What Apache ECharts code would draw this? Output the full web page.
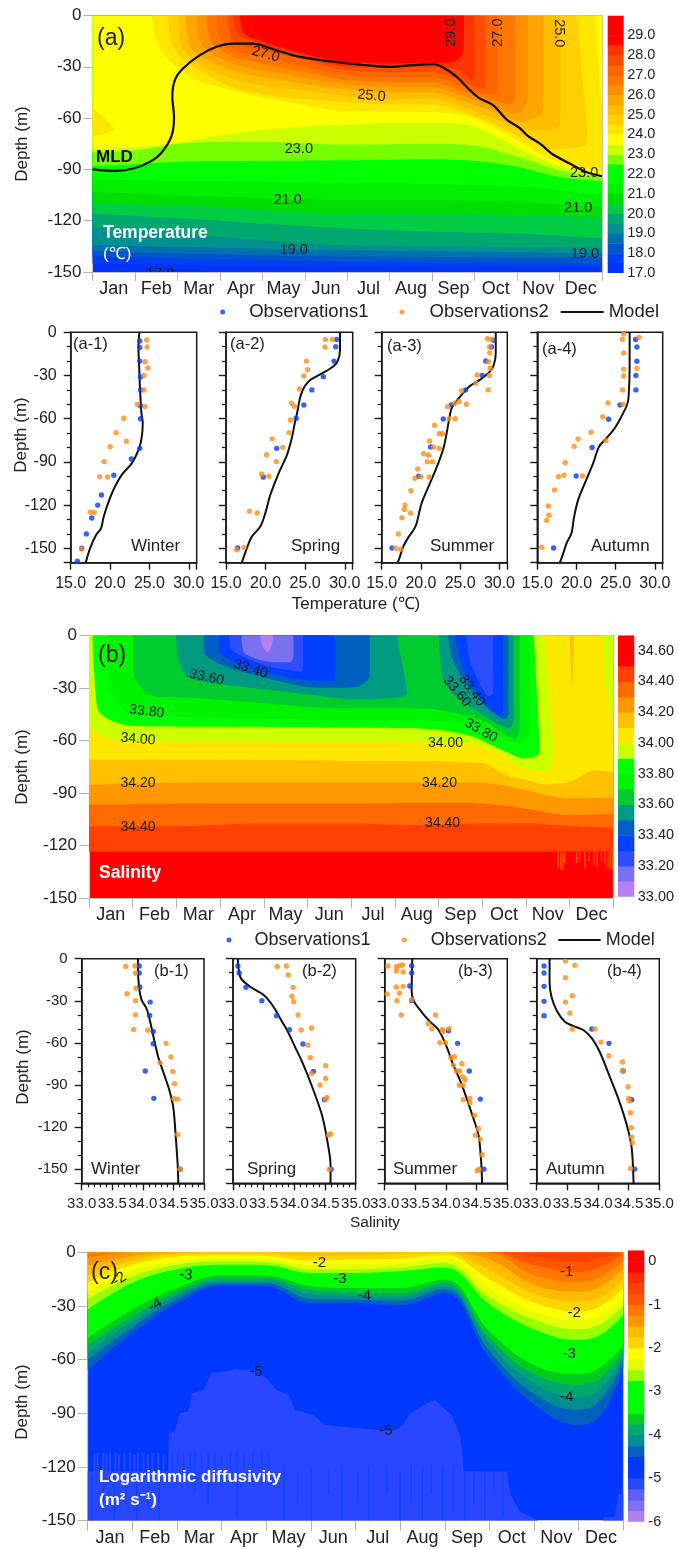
<!DOCTYPE html>
<html><head><meta charset="utf-8">
<style>html,body{margin:0;padding:0;background:#fff}#c{width:678px;height:1549px}</style>
<script src="https://cdn.jsdelivr.net/npm/echarts@6/dist/echarts.min.js"></script>
</head><body><div id="c"></div>
<script>
const months=['Jan','Feb','Mar','Apr','May','Jun','Jul','Aug','Sep','Oct','Nov','Dec'];

// ---------- (a) temperature: isotherm depth [month position, depth m]
const t175=[[0,145],[6,147],[12,147]];
const t180=[[0,141],[6,144],[12,145]];
const t185=[[0,138],[6,141],[12,142]];
const t190=[[0,134.4],[6,137.3],[12,139]];
const t195=[[0,123.7],[3,129.5],[6,134.4],[8,135],[12,136]];
const t200=[[0,116],[3,120],[6,124.6],[8,126.5],[10,127.5],[12,130.5]];
const t205=[[0,110],[3,112],[6,116],[8,116],[12,118]];
const t210=[[0,103],[3,106],[6,108],[8,108],[10,109],[12,112]];
const t215=[[0,96],[3,97],[6,98],[10,100],[12,105]];
const t220=[[0,92],[3,90],[6,90],[9,90],[10,93],[11,98],[12,100]];
const t225=[[0,88],[1,87],[2,85.5],[4,85],[6,84.6],[8,84],[9,85],[10,88.5],[11,94.4],[12,97]];
const t230=[[0,80],[1,79],[2,75],[3,74],[4,74],[6,75.5],[8,75],[9,76],[10,82.5],[11,90.5],[12,95]];
const t235=[[0,78],[1,77],[2,74.5],[3,70],[4,67],[5,65],[6,64],[7,62.5],[8,62.5],[9,65],[10,77],[11,88],[12,93.5]];
const t240=[[1.39,0],[1.5,14],[1.75,25],[2.5,38],[3.5,45],[4.5,50],[6,56],[8,56.5],[9,60],[10,73],[11,86],[12,91]];
const t245=[[1.78,0],[1.85,15],[2.2,27],[3.3,42],[4,46],[5,49],[5.82,50.5],[7,52],[8,52],[8.7,56],[9.4,63],[10.2,72],[10.8,78],[11.6,76],[11.65,70],[11.65,0]];
const t250=[[2.02,0],[2.1,18],[2.5,28],[3.3,37],[4,41],[5,44],[5.82,46.6],[7,49],[8,48.5],[8.7,53],[9.4,60],[10.2,67],[10.8,67],[11.02,62],[11.02,0]];
const t255=[[2.2,0],[2.35,20],[3.3,32],[4,36],[5,40],[5.82,42.7],[7,45],[8,45],[8.7,50],[9.4,56],[10.1,62],[10.55,58],[10.62,52],[10.62,0]];
const t260=[[2.45,0],[2.6,18],[3.3,28],[4,32],[5,36.5],[5.82,39.8],[7,42],[8,42],[8.7,47],[9.4,53],[10,57],[10.2,52],[10.26,46],[10.26,0]];
const t265=[[2.68,0],[2.8,15],[3.3,24],[4,28],[5,33],[5.82,37],[7,39],[8,39],[8.7,44],[9.4,49],[9.8,52],[9.95,48],[9.95,0]];
const t270=[[2.92,0],[3,13],[3.3,20],[4.1,24],[5,30],[5.82,34],[7,36],[8,36],[8.7,41],[9.3,46],[9.52,46],[9.55,40],[9.55,0]];
const t275=[[3.19,0],[3.3,15],[4,20],[5,26],[5.82,31.4],[7,33],[8,33],[8.7,38],[9.2,43],[9.26,40],[9.26,0]];
const t280=[[3.31,0],[3.4,10],[3.7,14],[4.3,19.5],[5,24],[5.82,29.5],[7,30.5],[8,30],[8.6,31.5],[8.95,38],[9,36],[9,0]];
const t285=[[3.47,0],[3.55,10],[3.8,13.5],[4.33,18],[5,22.5],[5.82,27],[7,28],[8,28],[8.4,27.5],[8.65,25],[8.75,15],[8.75,0]];
const t290=[[3.75,0],[3.9,11],[4.5,18.5],[5.8,26],[7,26.5],[8,27],[8.45,20],[8.45,0]];
const tempIsotherms=[[17.5,t175],[18,t180],[18.5,t185],[19,t190],[19.5,t195],[20,t200],[20.5,t205],[21,t210],[21.5,t215],[22,t220],[22.5,t225],[23,t230],[23.5,t235],[24,t240],[24.5,t245],[25,t250],[25.5,t255],[26,t260],[26.5,t265],[27,t270],[27.5,t275],[28,t280],[28.5,t285],[29,t290]];
const tempColors=['#0033ff','#0040f0','#0055cc','#0070b0','#009090','#00a870','#00cc44','#00dd00','#00f000','#00ff00','#00ff00','#77ff00','#ccff00','#ffff00','#ffe600','#ffd000','#ffbf00','#ffa500','#ff9000','#ff7700','#ff6600','#ff4d00','#ff3300','#ff0500','#ff0000','#ff0000'];
const tempPatches=[[24,[[0,53.4],[0.56,67],[0,71]]],[24,[[11.4,0],[11.65,0],[11.65,65]]],[23.5,[[11.85,0],[12,0],[12,55],[11.95,38]]]];
const mldDepth=[[0,90],[0.56,90.9],[0.96,89.5],[1.35,85.6],[1.62,80.4],[1.86,70.6],[1.92,59.3],[1.88,47.6],[1.94,37.8],[2.13,31],[2.53,23.2],[2.92,18.3],[3.31,16.4],[3.78,16.4],[4.33,20.3],[4.88,24.2],[5.82,27.5],[6.61,29.5],[7,30],[7.55,29],[8.03,28.5],[8.26,30.4],[8.58,35.9],[8.85,42.7],[9.09,48],[9.44,52.5],[9.75,60.7],[10.07,66],[10.26,70.6],[10.54,74.9],[10.81,80.7],[11.24,86.6],[11.63,91.5],[12,94]];
const tempLabels=[[4.08,22.7,'27.0',-15],[6.57,47,'25.0',-5],[4.86,78,'23.0',0],[4.6,107.7,'21.0',0],[4.74,137,'19.0',0],[1.6,151,'17.0',0],[8.44,10,'29.0',90],[9.56,10,'27.0',90],[10.99,10.4,'25.0',-90],[11.58,92.3,'23.0',0],[11.44,112.7,'21.0',0],[11.6,139.5,'19.0',0]];

// ---------- profiles (a): [temperature, depth]
const a1Obs1=[[23.77,6],[23.77,10.6],[23.77,20],[23.86,31],[23.86,40],[23.86,51],[23.86,60],[23.77,80.6],[22.7,88],[20.47,99.3],[18.9,113],[18.43,120],[17.67,129],[16.99,140],[16.4,150],[15.85,159]];
const a1Obs2=[[24.66,5.3],[24.7,10.2],[24.45,20.4],[24.8,24.8],[24.3,30],[24.3,40],[23.47,50],[24.45,51.6],[21.74,59.7],[20.76,69.7],[22.08,75.7],[20,79.4],[19.24,89.8],[18.69,100.2],[19.66,100.5],[17.5,125],[18,125.2],[16.4,150.5]];
const a1Model=[[23.73,0],[23.6,9.9],[23.69,23.8],[23.81,40],[23.98,56],[24.15,63],[24.03,72.5],[23.69,80.6],[22.75,91],[21.48,99],[20.42,109.5],[19.66,120],[19.15,129],[18.86,136],[18.22,140.7],[17.46,150],[16.9,160]];
const a2Obs1=[[28.98,5],[28.86,10],[28.64,20],[27.29,30.8],[25.85,40],[24.83,50.5],[23.86,59.7],[21.4,80.6],[19.7,100.5],[16.48,149.8]];
const a2Obs2=[[27.54,4.9],[28.43,5],[27.5,10.2],[25.17,20],[25.3,26],[24.83,30.3],[24.28,39.4],[23.26,49.3],[23.64,51.4],[23.14,60.9],[22.97,69.7],[20.85,74],[22.16,79.9],[20.13,85],[21.36,89.8],[19.49,98.4],[20.42,100],[17.97,124.3],[18.94,125.5],[17.29,149.5],[16.36,151]];
const a2Model=[[29.4,0],[29.4,12.3],[29.07,20.4],[28.22,25],[26.95,29],[25.68,33],[24.92,37.7],[24.4,44.6],[23.98,56],[23.69,63],[23.35,72.5],[22.71,85],[21.65,97.9],[20.59,113],[19.96,125.7],[19.32,135],[18.26,141.9],[17.63,150],[16.99,160]];
const a3Obs1=[[29.24,5.6],[28.98,10.2],[28.26,19.9],[27.8,29.9],[25.68,40],[23.86,50.5],[22.84,60.2],[21.23,79.6],[19.7,100],[16.31,149.8]];
const a3Obs2=[[28.47,4.4],[28.98,4.9],[28.73,10.2],[28.77,14.4],[28.6,20.4],[28.81,25],[27.16,29.6],[28.73,30],[26.99,35.4],[28.56,40],[25.17,40.7],[24.87,48],[24.32,49.3],[25.8,50],[23.39,51.6],[23.56,60],[24.36,60],[21.74,64.6],[22.33,70.4],[22.75,70.4],[21.1,75.5],[21.61,79.6],[22.33,80.6],[20.34,84.3],[20.97,85.2],[20.8,89.8],[21.48,90],[19.58,94.9],[20,100.2],[19.24,101.4],[21.06,100.5],[18.73,110],[17.97,120],[17.88,123],[17.58,128.7],[18.69,125.7],[17.12,140],[16.78,150],[17.42,150.7]];
const a3Model=[[29.53,0],[29.53,14.6],[29.28,22.7],[28.77,27.3],[27.5,33],[26.23,37.3],[25.17,43.5],[24.32,49.3],[23.9,52.8],[23.69,57.4],[23.35,67.8],[22.92,79.4],[22.2,91],[21.14,104.9],[20.08,118.8],[19.45,132.6],[19.11,136.8],[18.39,142.4],[17.75,148.8],[17.25,157],[17.03,160]];
const a4Obs1=[[27.54,5],[27.71,10.2],[27.71,20.1],[27.58,30],[27.58,40],[25.55,50.5],[24.11,60.4],[21.99,80],[19.96,99.8],[17.08,149.8]];
const a4Obs2=[[26.02,1.2],[27.97,3.5],[25.85,4.9],[26.02,14.4],[27.71,25],[26.02,25.7],[26.02,30.3],[25.89,40],[24.03,49],[25.93,50],[23.35,58.6],[21.86,69.4],[20.21,74],[19.7,79.2],[23.77,75.2],[18.56,90.5],[18.39,99.3],[17.71,100.2],[20.76,99.8],[17.2,109.5],[16.4,120.6],[16.48,127],[16.19,130.6],[15.59,149.3]];
const a4Model=[[26.78,0],[26.78,23.8],[26.65,44.7],[26.44,50.5],[25.72,58.6],[24.87,66.6],[23.81,73.6],[22.88,79.4],[22.12,91],[21.06,104.9],[20.21,116.4],[19.7,128],[19.36,139.6],[18.73,146.5],[18.31,153.5],[17.88,160]];

// ---------- (b) salinity: isohaline depth
const s345=[[0,123.6],[12,123.6]];
const s344=[[0,109],[2,109],[4,107.5],[6,107.5],[7.3,108.3],[9,107.5],[10,107.5],[11,109],[12,110]];
const s343=[[0,96.5],[4,96],[6,96],[7.5,95.7],[9,96],[10,99],[11,102.6],[12,102]];
const s342=[[0,85.5],[1,84.5],[3,84],[6,84],[9,84],[10,88.4],[10.6,92],[11,93],[12,92.7]];
const s341=[[0,71],[2,71],[6,71.6],[9,73],[9.55,79.8],[10,82.6],[10.5,85],[11,83.6],[11.6,77],[12,78]];
const s340=[[0,52],[0.25,57],[0.7,60],[1.2,61],[6,60.8],[8,61.3],[8.8,62],[9.4,67.4],[9.86,75],[10.3,78],[10.51,77],[10.6,71],[10.63,65],[10.63,0]];
const s339=[[0.08,0],[0.115,20],[0.21,42.6],[0.48,48.4],[1,51.8],[2.5,52.2],[5.7,52.6],[7.3,53.1],[8,54],[8.8,58],[9.55,66.5],[9.94,70.3],[10.3,67.4],[10.3,0]];
const s338=[[0.44,0],[0.48,29],[0.6,37],[0.94,44.9],[5.75,48.4],[8,49],[9,53],[9.6,60],[9.9,62],[10.1,55],[10.1,0]];
const s337=[[1.01,0],[1.01,20],[1.36,34],[2.54,36],[4.07,38.9],[5.75,41.7],[7.3,41.7],[8,42.6],[9,48.4],[9.55,57],[9.76,58.9],[9.86,52],[9.86,0]];
const s336a=[[1.99,0],[2.05,14],[2.24,23.6],[2.85,27.4],[4.07,31],[5.75,36],[6,36.4],[7.27,33.5],[7.3,0]];
const s336b=[[8,0],[8.05,15],[8.1,25],[8.4,35],[9.02,45.5],[9.48,52],[9.63,53],[9.72,48],[9.72,0]];
const s335a=[[2.62,0],[2.64,10],[3,16.5],[3.4,20],[4.07,24.5],[5,29.5],[5.75,30],[6.2,29],[6.43,22.7],[6.43,0]];
const s335b=[[8.22,0],[8.3,12],[8.57,25.5],[9.02,39],[9.33,45.5],[9.52,48],[9.6,44.5],[9.6,0]];
const s334a=[[2.96,0],[2.98,9],[3.4,16.5],[4.07,21.5],[4.9,25.5],[5.6,26],[5.63,22],[5.63,0]];
const s334b=[[8.38,0],[8.45,10],[8.64,23.6],[9.1,40.7],[9.37,45.5],[9.48,44.5],[9.48,0]];
const s333a=[[3.2,0],[3.25,8],[3.6,13],[4.07,17.5],[4.6,20],[4.85,21],[4.9,15],[4.9,0]];
const s333b=[[8.63,0],[8.72,15],[8.95,28],[9.15,35],[9.25,33],[9.25,0]];
const s332=[[3.49,0],[3.55,10],[4.07,15],[4.6,15.5],[4.68,12],[4.68,0]];
const s331=[[3.91,0],[3.98,7],[4.1,9.5],[4.18,6],[4.22,0]];
const salIsohalines=[[34.5,s345],[34.4,s344],[34.3,s343],[34.2,s342],[34.1,s341],[34.0,s340],[33.9,s339],[33.8,s338],[33.7,s337],[33.6,s336a],[33.6,s336b],[33.5,s335a],[33.5,s335b],[33.4,s334a],[33.4,s334b],[33.3,s333a],[33.3,s333b],[33.2,s332],[33.1,s331]];
const salColors=['#b580f0','#7a70f0','#2d4dff','#0040ff','#0060c0','#009a80','#00cc30','#00f400','#00ff00','#ccff00','#ffe800','#ffc000','#ff9800','#ff6a00','#ff4000','#ff0000','#ff0000'];
const salPatches=[[34.0,[[10.41,0],[10.63,0],[10.63,62],[10.55,40]]],[33.9,[[10.18,0],[10.3,0],[10.3,55]]],[33.6,[[7.04,0],[7.3,0],[7.3,33.5],[7.2,20]]],[33.9,[[11.75,0],[12,0],[12,52],[11.8,25]]],[34.1,[[11,0],[11.1,0],[11.07,29],[11.05,29]]]];
const salStreaks=[[10.74,124,133],[10.8,124,134],[10.85,124,134],[10.89,124,130],[11.16,124,130],[11.23,124,128],[11.35,124,133],[11.45,124,129],[11.56,124,131],[11.63,124,133],[11.73,124,129],[11.81,124,131],[11.88,124,134],[11.93,124,133],[11.98,124,134]];
const salLabels=[[3.7,19.2,'33.40',-18],[2.69,24,'33.60',-12],[1.32,43.5,'33.80',-7],[1.12,59.3,'34.00',-5],[1.12,84.5,'34.20',0],[1.12,109.3,'34.40',0],[8.76,31.5,'33.40',-55],[8.42,32.1,'33.60',-50],[8.97,54.4,'33.80',-30],[8.16,61.7,'34.00',0],[8.02,84.2,'34.20',0],[8.09,107.4,'34.40',0]];

// ---------- profiles (b): [salinity, depth]
const b1Obs1=[[33.94,5.2],[33.94,10.2],[33.95,20.2],[34.12,30.9],[34.11,40.4],[34.17,51.8],[34.17,60.6],[34.04,80],[34.18,99.5],[34.61,150]];
const b1Obs2=[[33.72,5.5],[33.87,5.2],[33.88,10.2],[33.89,21],[33.74,25],[33.88,30],[33.88,40],[33.85,50.4],[34.08,51],[34.38,60.3],[34.46,70],[34.28,74],[34.49,80.3],[34.52,89],[34.51,99.8],[34.57,100],[34.57,125.2],[34.61,150]];
const b1Model=[[33.92,0],[33.92,6.9],[33.94,21],[33.98,29.5],[34.06,35.4],[34.12,44.9],[34.18,56.8],[34.25,69.8],[34.36,84],[34.44,94.7],[34.5,106.6],[34.54,128],[34.57,147],[34.58,160]];
const b2Obs1=[[33.08,5.2],[33.1,10.2],[33.21,20.4],[33.47,29.9],[33.71,40.6],[33.92,50.6],[34.14,60.8],[34.31,80.3],[34.49,100.5],[34.6,150]];
const b2Obs2=[[33.72,5.5],[33.87,5.2],[33.9,11.6],[33.98,20.4],[33.96,26.8],[33.99,30.6],[34.06,40.1],[34.11,50.8],[34.28,49.4],[34.22,61.5],[34.26,70.5],[34.51,76.2],[34.28,81.7],[34.51,85.3],[34.42,90],[34.53,98.8],[34.51,100.2],[34.56,125.6],[34.59,124.9],[34.57,150]];
const b2Model=[[33.08,0],[33.09,6.9],[33.13,14],[33.28,20],[33.5,25.9],[33.66,34.2],[33.8,44.9],[33.88,50.8],[34.01,62.7],[34.15,75.8],[34.29,91.2],[34.45,111.4],[34.54,130.4],[34.59,147],[34.59,160]];
const b3Obs1=[[33.44,5],[33.44,10.2],[33.41,19.5],[33.44,29.9],[34.04,51.3],[34.19,60.3],[34.38,80],[34.56,100],[34.62,149.9]];
const b3Obs2=[[33.05,5.2],[33.19,5.7],[33.24,5],[33.29,4.5],[33.19,8.8],[33.3,9.5],[33.19,20.2],[33.3,19.7],[33.04,25.2],[33.24,24.5],[33.2,29.9],[33.44,29.2],[33.27,40.1],[33.83,40.1],[33.71,46.3],[33.77,49.9],[33.94,50.4],[33.95,52],[34.05,49.9],[33.9,59.9],[33.99,59.9],[34.08,70.3],[34.14,69.8],[34.12,75.8],[34.26,74.8],[34.17,80],[34.22,80],[34.27,84],[34.31,86.2],[34.22,90.3],[34.28,90.3],[34.28,100.5],[34.39,99.5],[34.39,102.6],[34.47,111.4],[34.53,121.1],[34.48,125.7],[34.56,128.5],[34.59,139.7],[34.51,151],[34.54,150]];
const b3Model=[[33.45,0],[33.44,23.5],[33.48,30.6],[33.6,37.8],[33.74,44.9],[33.88,50.8],[34.01,62.7],[34.12,75.8],[34.26,90],[34.42,110.2],[34.53,125.7],[34.57,142.3],[34.59,160]];
const b4Obs1=[[33.12,5.2],[33.12,10.2],[33.12,19.7],[33.12,30.4],[33.12,40.6],[33.9,50.1],[34.18,60.3],[34.41,80],[34.55,100.5],[34.6,149.9]];
const b4Obs2=[[33.47,1.7],[33.62,4.75],[33.47,13.5],[33.58,26.4],[33.47,30.9],[33.54,38.7],[33.58,50.1],[33.95,50.1],[34.05,59.4],[34.18,69.1],[34.4,73.6],[34.4,79.8],[34.49,91.2],[34.5,99.5],[34.51,101.4],[34.53,109.7],[34.54,120.4],[34.55,127.1],[34.56,131.1],[34.53,149.4]];
const b4Model=[[33.21,0],[33.21,16.4],[33.24,27],[33.33,37.3],[33.46,44.9],[33.6,48],[33.76,50.8],[33.9,56.8],[34.04,67.5],[34.17,81.7],[34.34,100.7],[34.47,118.5],[34.55,135],[34.58,160]];

// ---------- (c) log diffusivity: contour depth at each column
const kCols=[0,1,2,3,4,5,6,7,8,9,10,11,11.5,12];
const k450=[66,45,28.5,18.5,19,28.5,28.5,29.5,23,59,85,96.5,91,65];
const k425=[60,42,26,17.5,17.5,26,26.5,27,20.5,55,79,88,82,61];
const k400=[56,39,24,16,16,23.5,24.5,25,19,51,73,81,76,58];
const k375=[52,36,22,14.5,14.5,21,22.5,23,17,48,68,74,70,55];
const k350=[48,32,20,13,13,19,20,20,15,44,63,68,64,52];
const k275=[32,17,9.5,7,7.3,11.5,11.5,10.5,8.5,29,43,49,46,35];
const k250=[26,13.5,7,5,5.3,9.5,9.5,8.5,6,25,37.5,43,40,30];
const k225=[22,10,5,3,3.5,7,6.5,6,3,20,33,38,35,25];
const k200=[17,7,2.5,1.5,2,4.5,4,3.5,1.5,15,28,33,30,20];
const k175=[13,4.5,1,0.5,0.7,2,1.5,1,0.3,10,23,27.5,25,15];
const k150=[7.5,2,0.3,0,0,0,0,0,0,4,18,22,19,9];
const k125=[3,0,0,0,0,0,0,0,0,0.5,12.5,16.5,13.5,5];
const k100=[0,0,0,0,0,0,0,0,0,0,7,11,8,1];
const k075=[0,0,0,0,0,0,0,0,0,0,2.4,5,3,0];
const diffContours=[[-4.5,k450],[-4.25,k425],[-4,k400],[-3.75,k375],[-3.5,k350],[-2.75,k275],[-2.5,k250],[-2.25,k225],[-2,k200],[-1.75,k175],[-1.5,k150],[-1.25,k125],[-1,k100],[-0.75,k075]];
const diffColors=['#b080f0','#8070f0','#5f5ff8','#2848ff','#0038ff','#0038ff','#0060c0','#008f90','#00a870','#00cc20','#00ff00','#00ff00','#00ff00','#99ff00','#e6ff00','#ffff00','#ffd500','#ffbb00','#ff9500','#ff7700','#ff5500','#ff4000','#ff2a00','#ff0000','#ff0000'];
const diffPatchTop=[[0,122.5],[1.8,122.5],[1.82,101],[1.95,100],[2.07,90],[2.25,89],[2.33,78.8],[2.6,77],[2.78,67.2],[3.1,66.5],[3.34,65.2],[3.65,66],[4.01,70.4],[4.23,77],[4.5,79.7],[4.65,88],[5.06,91],[5.32,96.5],[5.65,97.4],[6.1,98.3],[6.85,100],[7.07,96.5],[7.22,90],[7.6,84.4],[7.78,82.5],[8.15,90.9],[8.34,102],[8.4,113.2],[8.42,122.5],[9.39,122.5],[9.46,134.6],[9.68,145],[9.98,148.6],[10.1,150]];
const diffPatchCorner=[[11.55,148],[11.8,148],[11.9,135],[12,135]];
const diffTeeth=[[0.15,112,123],[0.22,112,123],[0.35,112,123],[0.42,113,123],[0.5,112,123],[0.62,112,123],[0.7,113,123],[0.82,112,123],[0.95,112,123],[1.05,113,123],[1.13,112,123],[1.25,112,123],[1.35,113,123],[1.45,112,123],[1.58,112,123],[1.7,113,123]];
const diffDarkStreaks=[[0.1,125,150],[0.35,123,145],[0.6,123,150],[0.85,125,140],[1.1,123,150],[1.35,124,142],[1.6,123,150],[1.9,112,123],[2.02,112,120],[2.15,113,126],[2.3,112,122],[2.4,112,135],[2.55,113,124],[2.7,112,140],[2.85,112,122],[3,113,123],[3.2,112,125],[3.35,112,148],[3.5,113,122],[3.7,112,124],[3.9,112,130],[4.05,112,122],[4.4,118,150],[4.7,122,140],[5,120,150],[5.4,122,135],[5.7,119,150],[6.05,122,140],[6.3,120,150],[6.7,119,135],[7,122,150],[7.25,118,140],[7.5,120,150],[7.7,118,135],[7.95,120,150],[8.2,119,145],[8.45,122,150],[8.65,122,140],[8.9,122,150],[9.1,122,135],[9.3,122,148]];
const diffLabels=[[0.71,15,'-2',35],[2.2,12.7,'-3',-5],[1.51,29.4,'-4',30],[5.19,6,'-2',0],[5.65,15,'-3',0],[6.2,24.4,'-4',0],[3.77,66.7,'-5',0],[6.68,99.6,'-5',0],[10.73,11.2,'-1',0],[10.9,34,'-2',0],[10.79,57,'-3',0],[10.73,81,'-4',0]];

// ---------- build
const FONT='"Liberation Sans",Arial,sans-serif', INK='#222', FRAME='#c4c0b8';
const opt={animation:false,backgroundColor:'#fff',textStyle:{fontFamily:FONT},grid:[],xAxis:[],yAxis:[],series:[],legend:[],graphic:{elements:[]}};
let zc=2;
const rectOf=(l,t,r,b)=>({left:l,top:t,width:r-l,height:b-t});
function depthFmt(v){return v===0?'0':(v%30===0?'-'+v:'');}
function polygonSeries(xi,yi,pts,color){
  opt.series.push({type:'custom',coordinateSystem:'cartesian2d',xAxisIndex:xi,yAxisIndex:yi,silent:true,z:zc++,clip:true,data:[pts[0]],
    renderItem:(p,api)=>({type:'polygon',shape:{points:pts.map(q=>api.coord(q))},style:{fill:color}})});
}
function streakSeries(xi,yi,list,color,w){
  opt.series.push({type:'custom',coordinateSystem:'cartesian2d',xAxisIndex:xi,yAxisIndex:yi,silent:true,z:zc++,clip:true,data:list.map(s=>[s[0],s[1]]),
    renderItem:(p,api)=>{const s=list[p.dataIndex],a=api.coord([s[0],s[1]]),b=api.coord([s[0],s[2]]);
      return {type:'rect',shape:{x:a[0]-w/2,y:a[1],width:w,height:b[1]-a[1]},style:{fill:color}};}});
}
function areaSeries(name,xi,yi,pts,color,origin,smooth){
  opt.series.push({name,type:'line',xAxisIndex:xi,yAxisIndex:yi,data:pts,showSymbol:false,silent:true,z:zc++,
    smooth:smooth||false,lineStyle:{width:0,opacity:0},areaStyle:{color,opacity:1,origin}});
}
function labelSeries(xi,yi,list,size){
  opt.series.push({type:'custom',coordinateSystem:'cartesian2d',xAxisIndex:xi,yAxisIndex:yi,silent:true,z:zc++,clip:true,data:list.map(s=>[s[0],s[1]]),
    renderItem:(p,api)=>{const s=list[p.dataIndex],a=api.coord([s[0],s[1]]);
      return {type:'text',x:a[0],y:a[1],rotation:s[3]*Math.PI/180,style:{text:s[2],fill:'#1c1c1c',fontSize:size,fontFamily:FONT,align:'center',verticalAlign:'middle'}};}});
}
function contourPanel(r,base,fs,tick){
  const g=opt.grid.length;
  opt.grid.push({...r,show:true,backgroundColor:base,borderWidth:0});
  const line={show:true,onZero:false,lineStyle:{color:FRAME,width:1.2}};
  const xc=opt.xAxis.length;
  opt.xAxis.push({type:'category',gridIndex:g,data:months,position:'bottom',axisLine:line,axisTick:{show:true,length:tick,lineStyle:{color:'#b8b4ac',width:1}},
    axisLabel:{interval:0,fontSize:18,color:INK,margin:8,fontFamily:FONT},splitLine:{show:false}});
  opt.xAxis.push({type:'value',gridIndex:g,min:0,max:12,position:'top',axisLine:line,axisTick:{show:false},axisLabel:{show:false},splitLine:{show:false}});
  const yi=opt.yAxis.length;
  opt.yAxis.push({type:'value',gridIndex:g,inverse:true,min:0,max:150,interval:30,position:'left',axisLine:line,axisTick:{show:true,length:tick,lineStyle:{color:'#b8b4ac',width:1}},
    axisLabel:{formatter:depthFmt,fontSize:fs,color:INK,margin:tick+2,fontFamily:FONT},splitLine:{show:false}});
  opt.yAxis.push({type:'value',gridIndex:g,inverse:true,min:0,max:150,position:'right',axisLine:line,axisTick:{show:false},axisLabel:{show:false},splitLine:{show:false}});
  return {xi:xc+1,yi};
}
function colorBar(r,min,max,interval,step,colors,fmt,margin,fs){
  const g=opt.grid.length;
  opt.grid.push({...r,show:false});
  const xi=opt.xAxis.length,yi=opt.yAxis.length;
  opt.xAxis.push({type:'value',gridIndex:g,min:0,max:1,show:false});
  opt.yAxis.push({type:'value',gridIndex:g,min,max,interval,position:'right',axisLine:{show:false,onZero:false},axisTick:{show:false},splitLine:{show:false},
    axisLabel:{formatter:fmt,fontSize:fs,color:INK,margin,fontFamily:FONT}});
  opt.series.push({type:'custom',coordinateSystem:'cartesian2d',xAxisIndex:xi,yAxisIndex:yi,silent:true,clip:true,data:colors.map((c,i)=>[0.5,min+i*step]),
    renderItem:(p,api)=>{const i=p.dataIndex,a=api.coord([0,min+(i+1)*step]),b=api.coord([1,min+i*step]);
      return {type:'rect',shape:{x:a[0],y:a[1],width:b[0]-a[0],height:b[1]-a[1]+0.5},style:{fill:colors[i]}};}});
}
function profile(r,xmin,xmax,xint,xfmt,minor,showY,obs1,obs2,model,fs){
  const g=opt.grid.length;
  opt.grid.push({...r,show:true,borderColor:'#1a1a1a',borderWidth:1.5,backgroundColor:'rgba(0,0,0,0)'});
  const line={show:true,onZero:false,lineStyle:{color:'#1a1a1a',width:1.5}};
  const xi=opt.xAxis.length,yi=opt.yAxis.length;
  opt.xAxis.push({type:'value',gridIndex:g,min:xmin,max:xmax,interval:xint,position:'bottom',axisLine:line,axisTick:{show:true,length:7,lineStyle:{color:'#1a1a1a',width:1.4}},
    minorTick:{show:minor>0,splitNumber:minor||5,length:4,lineStyle:{color:'#1a1a1a',width:1.2}},
    axisLabel:{formatter:xfmt,fontSize:fs,color:INK,margin:13,fontFamily:FONT,hideOverlap:false},splitLine:{show:false},minorSplitLine:{show:false}});
  opt.yAxis.push({type:'value',gridIndex:g,inverse:true,min:0,max:160,interval:30,position:'left',axisLine:line,axisTick:{show:true,length:7,lineStyle:{color:'#1a1a1a',width:1.4}},
    minorTick:{show:true,splitNumber:3,length:4,lineStyle:{color:'#1a1a1a',width:1.2}},
    axisLabel:{show:showY,formatter:depthFmt,fontSize:fs,color:INK,margin:14,fontFamily:FONT},splitLine:{show:false},minorSplitLine:{show:false}});
  opt.series.push({name:'Model',type:'line',xAxisIndex:xi,yAxisIndex:yi,data:model,showSymbol:false,smooth:0.3,lineStyle:{color:'#111',width:2},itemStyle:{color:'#111'},z:3});
  opt.series.push({name:'Observations1',type:'scatter',xAxisIndex:xi,yAxisIndex:yi,data:obs1,symbolSize:5.4,itemStyle:{color:'#0a3cf0'},z:4});
  opt.series.push({name:'Observations2',type:'scatter',xAxisIndex:xi,yAxisIndex:yi,data:obs2,symbolSize:5.4,itemStyle:{color:'#ff8c14'},z:5});
}
function legends(y,pos){
  const mk=(name,left,icon,w,h,pad)=>opt.legend.push({data:[{name,icon}],left,top:y-10,itemWidth:w,itemHeight:h,itemGap:0,selectedMode:false,padding:0,
    textStyle:{fontSize:pos.fs,color:INK,fontFamily:FONT,padding:[0,0,0,pad],lineHeight:20}});
  mk('Observations1',pos.d1-2.5,'circle',5,5,pos.p1);
  mk('Observations2',pos.d2-2.5,'circle',5,5,pos.p2);
  mk('Model',pos.l,'rect',pos.lw,2,0);
}
function text(t,x,y,o){opt.graphic.elements.push({type:'text',x,y,z:200,rotation:o.rot||0,silent:true,style:{text:t,fontSize:o.fs,fontWeight:o.bold?'bold':'normal',fill:o.fill||INK,fontFamily:FONT,textAlign:o.align||'left',textVerticalAlign:'middle',verticalAlign:'middle',align:o.align||'left'}});}

// panel a
let p=contourPanel(rectOf(92.5,15.5,602,272),tempColors[0],17,9);
tempIsotherms.forEach(([v,pts])=>areaSeries('T '+v,p.xi,p.yi,pts,tempColors[Math.round((v-17)/0.5)],'start',0.3));
tempPatches.forEach(([v,pts])=>polygonSeries(p.xi,p.yi,pts,tempColors[Math.round((v-17)/0.5)]));
opt.series.push({name:'MLD',type:'line',xAxisIndex:p.xi,yAxisIndex:p.yi,data:mldDepth,showSymbol:false,smooth:0.3,silent:true,z:zc++,lineStyle:{color:'#0a0a0a',width:2.2}});
labelSeries(p.xi,p.yi,tempLabels,14.5);
colorBar(rectOf(607.7,15.5,623.7,273),17,30,1,0.5,tempColors,v=>v<30?v.toFixed(1):'',3.5,14.5);

// panel a profiles
const tFmt=v=>v%5===0?v.toFixed(1):'';
[[70.7,196.7,a1Obs1,a1Obs2,a1Model,true],[226,352.7,a2Obs1,a2Obs2,a2Model,false],[381.7,507.3,a3Obs1,a3Obs2,a3Model,false],[537.3,662.7,a4Obs1,a4Obs2,a4Model,false]]
 .forEach(q=>profile(rectOf(q[0],332.3,q[1],562.7),15,31,5,tFmt,0,q[5],q[2],q[3],q[4],16));
legends(312,{fs:18.5,d1:222.7,p1:19,d2:402,p2:20,l:560.7,lw:43});

// panel b
p=contourPanel(rectOf(89,635.3,613.3,898),'#ff0000',17,10);
salIsohalines.forEach(([v,pts])=>areaSeries('S '+v,p.xi,p.yi,pts,salColors[Math.round((v-33.1)/0.1)],'start',0.25));
salPatches.forEach(([v,pts])=>polygonSeries(p.xi,p.yi,pts,salColors[Math.round((v-33)/0.1)]));
streakSeries(p.xi,p.yi,salStreaks,'#ff5a00',1.3);
labelSeries(p.xi,p.yi,salLabels,14);
colorBar(rectOf(618,635.3,634.3,896.7),33,34.7,0.2,0.1,salColors,v=>v<34.65?v.toFixed(2):'',3.5,14.5);

// panel b profiles
const sFmt=v=>v.toFixed(1);
[[81.7,204,b1Obs1,b1Obs2,b1Model,true,5],[233,355.7,b2Obs1,b2Obs2,b2Model,false,5],[384.7,507.3,b3Obs1,b3Obs2,b3Model,false,0],[536.7,659.3,b4Obs1,b4Obs2,b4Model,false,0]]
 .forEach(q=>profile(rectOf(q[0],958.7,q[1],1183.3),33,35,0.5,sFmt,q[6],q[5],q[2],q[3],q[4],15));
legends(940,{fs:18,d1:229,p1:18,d2:404.3,p2:19,l:558.3,lw:42.4});

// panel c
p=contourPanel(rectOf(87.7,1252.3,623.3,1520.7),'#0038ff',17,10);
diffContours.forEach(([v,vals])=>areaSeries('K '+v,p.xi,p.yi,kCols.map((m,i)=>[m,vals[i]]),diffColors[Math.round((v+6)/0.25)],'start',0.4));
areaSeries('K patch',p.xi,p.yi,diffPatchTop,'#2848ff','end',false);
areaSeries('K corner',p.xi,p.yi,diffPatchCorner,'#2848ff','end',false);
streakSeries(p.xi,p.yi,diffTeeth,'#2848ff',2);
streakSeries(p.xi,p.yi,diffDarkStreaks,'rgba(0,56,255,0.5)',1.4);
labelSeries(p.xi,p.yi,diffLabels,15);
colorBar(rectOf(628,1250.3,644.3,1521.7),-6,0.25,1,0.25,diffColors,v=>v<=0?String(v):'',4,14.5);

// text
const dep=(x,y)=>text('Depth (m)',x,y,{fs:17,rot:Math.PI/2,align:'center'});
dep(22,144);dep(21,435);dep(22,767);dep(23,1067);dep(22,1402);
text('(a)',97,39,{fs:23});text('(b)',98,656,{fs:23});text('(c)',91,1273,{fs:23});
text('MLD',96,157,{fs:17,bold:true,fill:'#0a0a0a'});
text('Temperature',103,233,{fs:17.5,bold:true,fill:'#fff'});
text('(℃)',103,254,{fs:17,fill:'#fff'});
text('Salinity',99,873,{fs:17.5,bold:true,fill:'#fff'});
text('Logarithmic diffusivity',99,1477,{fs:17,bold:true,fill:'#fff'});
text('(m² s⁻¹)',99,1500,{fs:17,bold:true,fill:'#fff'});
text('Temperature (℃)',356,604,{fs:17,align:'center'});
text('Salinity',375,1223,{fs:15.5,align:'center'});
[['(a-1)',73,344],['(a-2)',230,344],['(a-3)',387,346],['(a-4)',542,349],['(b-1)',154,971],['(b-2)',302,971],['(b-3)',458,971],['(b-4)',607,971]].forEach(t=>text(t[0],t[1],t[2],{fs:16.5}));
[['Winter',131,546],['Spring',291,546],['Summer',430,546],['Autumn',591,546],['Winter',91,1169],['Spring',247,1169],['Summer',393,1169],['Autumn',546,1169]].forEach(t=>text(t[0],t[1],t[2],{fs:17}));

echarts.init(document.getElementById('c'),null,{renderer:'canvas'}).setOption(opt);
</script></body></html>
